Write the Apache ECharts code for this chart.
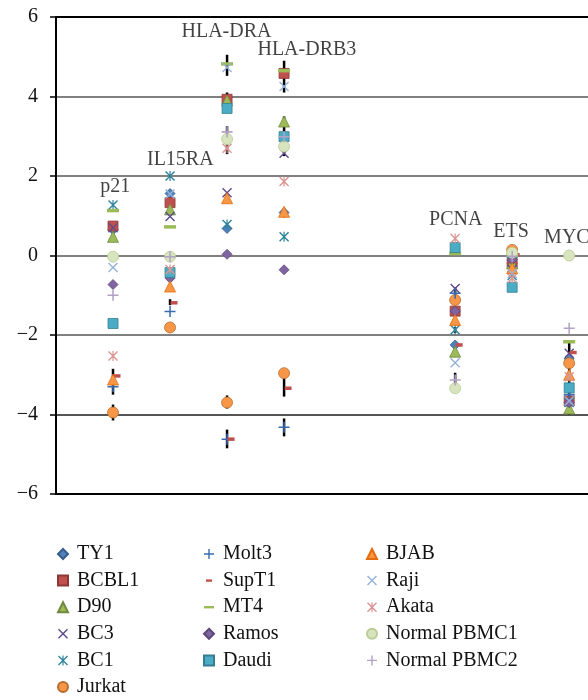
<!DOCTYPE html>
<html>
<head>
<meta charset="utf-8">
<script src="https://cdn.jsdelivr.net/npm/echarts@6/dist/echarts.min.js"></script>
<style>
html,body{margin:0;padding:0;background:#fff;}
#chart{width:588px;height:700px;}
</style>
</head>
<body>
<div id="chart"></div>
<script>
// Gene categories and their x positions (empty slots between HLA-DRB3 and PCNA)
const genes = ['p21', 'IL15RA', 'HLA-DRA', 'HLA-DRB3', 'PCNA', 'ETS', 'MYC'];
const genePos = [1, 2, 3, 4, 7, 8, 9];
// Gene label anchor positions
const geneLabelX = [1.04, 2.18, 2.99, 4.40, 7.01, 7.98, 8.96];
const geneLabelY = [1.73, 2.40, 5.63, 5.17, 0.89, 0.60, 0.44];

// Series values per gene (log2 fold change)
const TY1    = [0.65, 1.56, 0.68, 1.08, -2.25, -0.20, -2.60];
const BCBL1  = [0.74, 1.33, 3.93, 4.58, -1.40, -0.20, -3.66];
const D90    = [0.47, 1.16, 3.90, 3.37, -2.42, -0.20, -3.85];
const BC3    = [0.70, 0.98, 1.58, 2.57, -0.83, -0.35, -2.46];
const BC1    = [1.27, 2.00, 0.78, 0.47, -1.87, -0.50, -3.70];
const Jurkat = [-3.95, -1.81, -3.70, -2.96, -1.12, 0.14, -2.71];
const Molt3  = [-3.30, -1.41, -4.62, -4.32, -0.95, -0.05, -3.50];
const SupT1  = [-3.03, -1.19, -4.62, -3.34, -2.25, 0.02, -2.44];
const MT4    = [1.13, 0.72, 4.82, 4.65, 0.05, 0.00, -2.17];
const Ramos  = [-0.73, -0.57, 0.03, -0.36, -1.40, -0.11, -3.70];
const Daudi  = [-1.71, -0.43, 3.70, 2.99, 0.20, -0.80, -3.33];
const BJAB   = [-3.12, -0.78, 1.44, 1.10, -1.62, -0.32, -3.00];
const Raji   = [-0.30, 1.55, 4.73, 4.25, -2.70, -0.45, -3.66];
const Akata  = [-2.53, -0.35, 2.70, 1.86, 0.43, -0.57, -3.05];
const PBMC1  = [-0.03, -0.03, 2.93, 2.74, -3.34, 0.07, 0.00];
const PBMC2  = [-1.00, -0.03, 3.11, 2.99, -3.13, -0.02, -1.83];

// Error bars: gene position, low, high
const errPos  = [1, 1, 2, 3, 3, 3, 3, 3, 4, 4, 4, 4, 7, 7, 7, 9];
const errLow  = [-3.50, -4.15, -1.25, 4.52, 3.60, 2.55, -3.85, -4.85, 4.10, 2.50, -3.55, -4.55, -1.00, -1.95, -3.40, -4.00];
const errHigh = [-2.85, -3.75, -1.10, 5.05, 4.10, 3.25, -3.52, -4.38, 4.90, 3.50, -2.85, -4.10, -0.80, -1.80, -2.95, -2.20];

// Y ticks
const yMin = -6, yMax = 6, yStep = 2;
const xMax = 9.33;

const P_X = 'path://M0,1 L1,0 L5,4 L9,0 L10,1 L6,5 L10,9 L9,10 L5,6 L1,10 L0,9 L4,5 Z';
const P_AST = 'path://M0,1 L1,0 L5,4 L9,0 L10,1 L6,5 L10,9 L9,10 L5,6 L1,10 L0,9 L4,5 Z M4.4,0 L5.6,0 L5.6,10 L4.4,10 Z';
const P_PLUS = 'path://M4.3,0 H5.7 V4.3 H10 V5.7 H5.7 V10 H4.3 V5.7 H0 V4.3 H4.3 Z';
const P_DASH_L = 'path://M0,0 M10,10 M0,3.8 H10 V6.2 H0 Z';
const P_DASH_S = 'path://M0,0 M10,10 M2,3.8 H8 V6.2 H2 Z';

const seriesDefs = [
  {name:'TY1', data:TY1, symbol:'diamond', size:10, color:'#4F81BD', border:'#385D8A'},
  {name:'BCBL1', data:BCBL1, symbol:'rect', size:10, color:'#C0504D', border:'#8C3836'},
  {name:'D90', data:D90, symbol:'triangle', size:11, color:'#9BBB59', border:'#71893F'},
  {name:'BC3', data:BC3, symbol:P_X, size:10, color:'#5F4B8B', border:null},
  {name:'BC1', data:BC1, symbol:P_AST, size:10, color:'#31859C', border:null},
  {name:'Jurkat', data:Jurkat, symbol:'circle', size:11, color:'#F79646', border:'#B66D31'},
  {name:'Molt3', data:Molt3, symbol:P_PLUS, size:11, color:'#3A6BB0', border:null},
  {name:'SupT1', data:SupT1, symbol:'rect', size:[7,3.5], offset:[4,0], color:'#C0504D', border:null, legendIcon:P_DASH_S},
  {name:'MT4', data:MT4, symbol:'rect', size:[12,3.5], color:'#9BBB59', border:null, legendIcon:P_DASH_L},
  {name:'Ramos', data:Ramos, symbol:'diamond', size:10, color:'#8064A2', border:'#5C4776'},
  {name:'Daudi', data:Daudi, symbol:'rect', size:10, color:'#4BACC6', border:'#357D91'},
  {name:'BJAB', data:BJAB, symbol:'triangle', size:11, color:'#F79646', border:'#E46C0A'},
  {name:'Raji', data:Raji, symbol:P_X, size:10, color:'#95B3D7', border:null},
  {name:'Akata', data:Akata, symbol:P_AST, size:10, color:'#D99694', border:null},
  {name:'Normal PBMC1', data:PBMC1, symbol:'circle', size:11, color:'#D7E4BD', border:'#B9CD96'},
  {name:'Normal PBMC2', data:PBMC2, symbol:P_PLUS, size:11, color:'#B3A2C7', border:null}
];

const FONT = '"Liberation Serif", "DejaVu Serif", serif';

const series = [];
series.push({
  type:'custom',
  name:'errors',
  z:1,
  silent:true,
  data: errPos.map((x,i)=>[x, errLow[i], errHigh[i]]),
  encode:{x:0, y:[1,2]},
  renderItem:(params, api)=>{
    const x = api.value(0);
    const p1 = api.coord([x, api.value(1)]);
    const p2 = api.coord([x, api.value(2)]);
    return {type:'line', shape:{x1:p1[0], y1:p1[1], x2:p2[0], y2:p2[1]}, style:{stroke:'#000', lineWidth:2.5}};
  }
});
seriesDefs.forEach(d=>{
  series.push({
    type:'scatter',
    name:d.name,
    z:3,
    symbol:d.symbol,
    symbolSize:d.size,
    symbolOffset:d.offset || [0,0],
    itemStyle:{color:d.color, borderColor:d.border || d.color, borderWidth:d.border?0.8:0, opacity:1},
    emphasis:{disabled:true},
    data: d.data.map((v,i)=>[genePos[i], v])
  });
});
series.push({
  type:'scatter',
  name:'geneLabels',
  z:5,
  silent:true,
  symbolSize:1,
  itemStyle:{color:'rgba(0,0,0,0)'},
  label:{show:true, position:'inside', formatter:p=>p.value[2], fontFamily:FONT, fontSize:20, color:'#111'},
  data: genes.map((g,i)=>[geneLabelX[i], geneLabelY[i], g])
});

function legendCol(names, left){
  return {
    orient:'vertical',
    left:left,
    top:544,
    height:160,
    padding:0,
    itemWidth:10,
    itemHeight:10,
    itemGap:6.6,
    selectedMode:false,
    textStyle:{fontFamily:FONT, fontSize:20, color:'#111', lineHeight:20, padding:[0,0,0,4]},
    data: names.map(n=>{
      const d = seriesDefs.find(s=>s.name===n);
      const o = {name:n};
      if (d.legendIcon) o.icon = d.legendIcon;
      return o;
    })
  };
}

const chart = echarts.init(document.getElementById('chart'), null, {renderer:'canvas'});
chart.setOption({
  backgroundColor:'#fff',
  animation:false,
  grid:{left:56, top:17, bottom:206, right:0, containLabel:false},
  xAxis:{
    type:'value', min:0, max:xMax,
    axisLine:{show:true, onZero:false, lineStyle:{color:'#000', width:2}},
    axisTick:{show:false}, axisLabel:{show:false}, splitLine:{show:false}
  },
  yAxis:{
    type:'value', min:yMin, max:yMax, interval:yStep,
    axisLine:{show:true, lineStyle:{color:'#000', width:2}},
    axisTick:{show:true, length:6, lineStyle:{color:'#000', width:1.5}},
    axisLabel:{margin:18, fontFamily:FONT, fontSize:20, color:'#111',
      formatter:v=> v<0 ? '\u2212'+(-v) : String(v)},
    splitLine:{show:true, lineStyle:{color:['#000','#555','#808080','#808080','#808080','#808080','#000'], width:2}}
  },
  legend:[
    legendCol(['TY1','BCBL1','D90','BC3','BC1','Jurkat'], 57),
    legendCol(['Molt3','SupT1','MT4','Ramos','Daudi'], 203),
    legendCol(['BJAB','Raji','Akata','Normal PBMC1','Normal PBMC2'], 366)
  ],
  series: series
});
</script>
</body>
</html>
